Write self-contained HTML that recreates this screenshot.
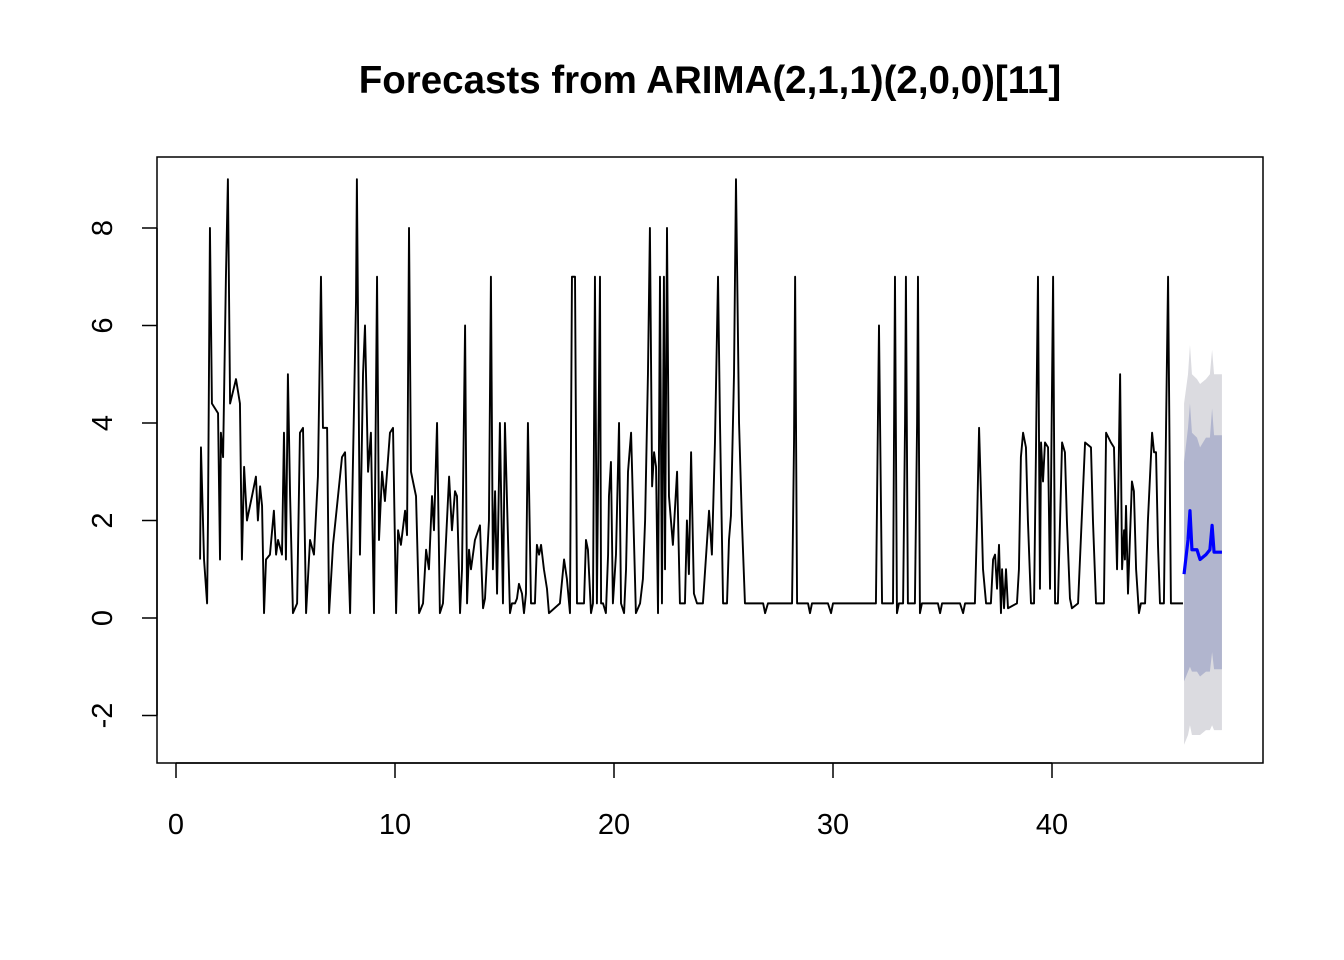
<!DOCTYPE html>
<html><head><meta charset="utf-8"><style>
body{margin:0;background:#fff}
svg{display:block}
text{font-family:"Liberation Sans",Arial,sans-serif}
</style></head><body>
<svg id="chart" width="1344" height="960" xmlns="http://www.w3.org/2000/svg">
<rect width="1344" height="960" fill="#fff"/>
<text x="710" y="93" text-anchor="middle" font-size="38.5" font-weight="bold">Forecasts from ARIMA(2,1,1)(2,0,0)[11]</text>
<g id="bands"></g>
<g id="series"></g>
<rect x="157" y="157" width="1106" height="606" fill="none" stroke="#000" stroke-width="1.5"/>
<g id="axes"></g>
</svg>
<script>
const obsT=[1.10,1.14,1.28,1.42,1.46,1.55,1.64,1.92,2.01,2.05,2.15,2.28,2.37,2.47,2.74,2.92,3.01,3.11,3.24,3.47,3.65,3.74,3.84,3.93,4.02,4.11,4.29,4.47,4.57,4.66,4.84,4.93,5.02,5.11,5.21,5.34,5.53,5.66,5.80,5.94,6.12,6.30,6.48,6.62,6.71,6.90,6.99,7.17,7.58,7.72,7.95,8.22,8.26,8.40,8.54,8.63,8.77,8.90,9.04,9.18,9.27,9.41,9.54,9.77,9.91,10.05,10.14,10.27,10.46,10.55,10.64,10.73,10.96,11.10,11.28,11.42,11.55,11.69,11.78,11.92,12.05,12.19,12.47,12.60,12.74,12.83,12.97,13.06,13.20,13.29,13.38,13.47,13.65,13.88,14.02,14.11,14.29,14.38,14.47,14.57,14.66,14.79,14.93,15.02,15.25,15.34,15.48,15.57,15.66,15.80,15.89,15.98,16.07,16.21,16.39,16.48,16.58,16.67,16.80,16.94,17.03,17.53,17.72,17.85,17.99,18.08,18.22,18.31,18.63,18.72,18.81,18.95,19.04,19.13,19.22,19.36,19.41,19.50,19.63,19.73,19.77,19.86,19.95,20.09,20.23,20.32,20.46,20.55,20.64,20.78,20.87,21.00,21.19,21.32,21.42,21.55,21.64,21.74,21.83,21.92,22.01,22.10,22.19,22.28,22.33,22.42,22.51,22.69,22.88,23.01,23.24,23.33,23.42,23.52,23.65,23.79,24.06,24.34,24.47,24.61,24.75,24.84,24.98,25.16,25.25,25.34,25.48,25.57,25.71,25.84,25.98,26.81,26.90,27.03,28.13,28.22,28.27,28.36,28.86,28.95,29.04,29.77,29.91,30.00,31.96,32.05,32.10,32.24,32.74,32.83,32.92,33.01,33.20,33.29,33.33,33.42,33.74,33.84,33.88,33.97,34.06,34.79,34.89,34.98,35.80,35.94,36.03,36.48,36.58,36.67,36.76,36.85,36.99,37.21,37.31,37.40,37.49,37.58,37.67,37.72,37.81,37.90,37.99,38.40,38.49,38.58,38.68,38.81,38.90,39.04,39.18,39.27,39.36,39.45,39.50,39.59,39.68,39.82,39.91,40.05,40.14,40.27,40.46,40.59,40.68,40.82,40.91,41.19,41.51,41.78,41.87,42.01,42.37,42.47,42.69,42.83,42.97,43.11,43.20,43.29,43.33,43.38,43.47,43.65,43.74,43.84,43.97,44.06,44.25,44.38,44.57,44.66,44.75,44.84,44.93,45.11,45.21,45.30,45.43,45.98];
const obsV=[1.2,3.5,1.2,0.3,2,8,4.4,4.2,1.2,3.8,3.3,7,9,4.4,4.9,4.4,1.2,3.1,2,2.5,2.9,2,2.7,2.3,0.1,1.2,1.3,2.2,1.3,1.6,1.3,3.8,1.2,5,2.5,0.1,0.3,3.8,3.9,0.1,1.6,1.3,2.9,7,3.9,3.9,0.1,1.5,3.3,3.4,0.1,6.5,9,1.3,5,6,3,3.8,0.1,7,1.6,3,2.4,3.8,3.9,0.1,1.8,1.5,2.2,1.7,8,3,2.5,0.1,0.3,1.4,1,2.5,1.8,4,0.1,0.3,2.9,1.8,2.6,2.5,0.1,1,6,0.3,1.4,1,1.6,1.9,0.2,0.4,2,7,1,2.6,0.5,4,0.3,4,0.1,0.3,0.3,0.4,0.7,0.5,0.1,0.5,4,0.3,0.3,1.5,1.3,1.5,1,0.6,0.1,0.3,1.2,0.8,0.1,7,7,0.3,0.3,1.6,1.4,0.1,0.3,7,0.3,7,0.3,0.3,0.1,1.3,2.5,3.2,0.3,1.3,4,0.3,0.1,1,3,3.8,2.3,0.1,0.3,0.8,2,5,8,2.7,3.4,3.1,0.1,7,0.3,7,1,8,2.5,1.5,3,0.3,0.3,2,0.9,3.4,0.5,0.3,0.3,2.2,1.3,3.6,7,4,0.3,0.3,1.6,2.1,5,9,4,2,0.3,0.3,0.1,0.3,0.3,3.6,7,0.3,0.3,0.1,0.3,0.3,0.1,0.3,0.3,4,6,0.3,0.3,7,0.1,0.3,0.3,4,7,0.3,0.3,4,7,0.1,0.3,0.3,0.1,0.3,0.3,0.1,0.3,0.3,2,3.9,2.5,1,0.3,0.3,1.2,1.3,0.6,1.5,0.1,1,0.2,1,0.2,0.3,1,3.3,3.8,3.5,2,0.3,0.3,3.5,7,0.6,3.6,2.8,3.6,3.5,0.6,7,0.3,0.3,3.6,3.4,2,0.4,0.2,0.3,3.6,3.5,2,0.3,0.3,3.8,3.6,3.5,1,5,1,1.8,1.2,2.3,0.5,2.8,2.6,1,0.1,0.3,0.3,2,3.8,3.4,3.4,1.5,0.3,0.3,4,7,0.3,0.3];
const fcT=[46.03,46.21,46.30,46.39,46.62,46.76,47.03,47.21,47.31,47.40,47.76];
const fcMean=[0.9,1.6,2.2,1.4,1.4,1.2,1.3,1.4,1.9,1.35,1.35];
const hi80=[3.2,3.9,4.4,3.8,3.7,3.5,3.7,3.7,4.3,3.75,3.75];
const lo80=[-1.3,-1.1,-1.0,-1.1,-1.1,-1.2,-1.1,-1.1,-0.7,-1.05,-1.05];
const hi95=[4.4,5.0,5.6,5.0,4.9,4.8,4.9,5.0,5.5,5.0,5.0];
const lo95=[-2.6,-2.4,-2.2,-2.4,-2.4,-2.4,-2.3,-2.3,-2.2,-2.3,-2.3];
const xTicks=[0,10,20,30,40];
const yTicks=[-2,0,2,4,6,8];

const NS="http://www.w3.org/2000/svg";
const X=t=>176+t*21.9;
const Y=v=>618-v*48.75;
function mk(tag,attrs,parent){const e=document.createElementNS(NS,tag);for(const k in attrs)e.setAttribute(k,attrs[k]);parent.appendChild(e);return e;}
const bands=document.getElementById('bands'),series=document.getElementById('series'),axes=document.getElementById('axes');
function band(hi,lo,fill,name){
  let d='M'+fcT.map((t,i)=>X(t)+','+Y(hi[i])).join('L');
  for(let i=fcT.length-1;i>=0;i--)d+='L'+X(fcT[i])+','+Y(lo[i]);
  const p=mk('path',{d:d+'Z',fill:fill},bands);
  
  
}
band(hi95,lo95,'#dbdbe0','interval-95');
band(hi80,lo80,'#b1b5ce','interval-80');
const obs=mk('polyline',{points:obsT.map((t,i)=>X(t)+','+Y(obsV[i])).join(' '),fill:'none',stroke:'#000','stroke-width':1.9,'stroke-linejoin':'round'},series);


const fc=mk('polyline',{points:fcT.map((t,i)=>X(t)+','+Y(fcMean[i])).join(' '),fill:'none',stroke:'#0000ff','stroke-width':3.2,'stroke-linejoin':'round'},series);


mk('line',{x1:X(0),x2:X(40),y1:763,y2:763,stroke:'#000','stroke-width':1.5},axes);
xTicks.forEach(v=>{
  const l=mk('line',{x1:X(v),x2:X(v),y1:763,y2:778,stroke:'#000','stroke-width':1.5},axes);
  
  
  const t=mk('text',{x:X(v),y:834,'text-anchor':'middle','font-size':29},axes);
  t.textContent=v;
  
  
});
mk('line',{x1:157,x2:157,y1:Y(-2),y2:Y(8),stroke:'#000','stroke-width':1.5},axes);
yTicks.forEach(v=>{
  const l=mk('line',{x1:142,x2:157,y1:Y(v),y2:Y(v),stroke:'#000','stroke-width':1.5},axes);
  
  
  const t=mk('text',{x:112,y:Y(v),'text-anchor':'middle','font-size':29,transform:'rotate(-90 112 '+Y(v)+')'},axes);
  t.textContent=v;
  
  
});
</script>
</body></html>
